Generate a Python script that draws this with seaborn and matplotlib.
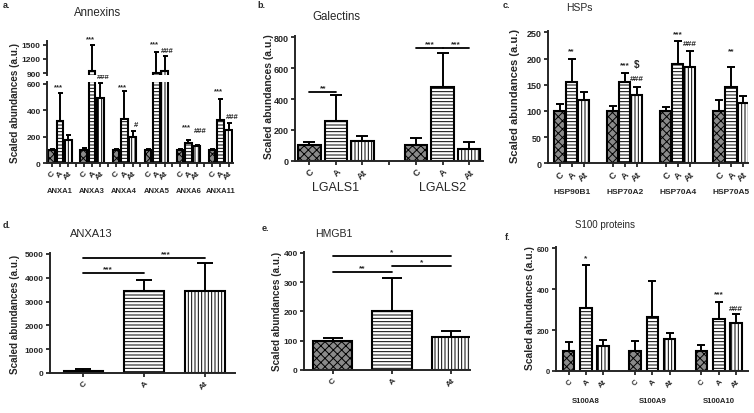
import numpy as np
import pandas as pd
import matplotlib
matplotlib.use("Agg")
import matplotlib.pyplot as plt
import seaborn as sns

# ---- values (mean, and upper SD) ----
groups = ["C", "A", "At"]

anx_genes = ["ANXA1", "ANXA3", "ANXA4", "ANXA5", "ANXA6", "ANXA11"]
anx_c = [100, 100, 100, 100, 100, 100]
anx_a = [323, 950, 335, 900, 154, 330]
anx_at = [176, 492, 202, 950, 134, 255]
anx_c_err = [10, 13, 5, 8, 6, 8]
anx_a_err = [209, 550, 215, 450, 22, 157]
anx_at_err = [41, 118, 45, 300, 7, 47]
anx_marks = [("ANXA1", "A", "***", 580), ("ANXA3", "A", "***", 1630), ("ANXA3", "At", "###", 655),
             ("ANXA4", "A", "***", 580), ("ANXA4", "At", "#", 290),
             ("ANXA5", "A", "***", 1510), ("ANXA5", "At", "###", 1370),
             ("ANXA6", "A", "***", 280), ("ANXA6", "At", "###", 250),
             ("ANXA11", "A", "***", 550), ("ANXA11", "At", "###", 355)]

gal_genes = ["LGALS1", "LGALS2"]
gal_c = [100, 100]
gal_a = [259, 476]
gal_at = [126, 78]
gal_c_err = [19, 45]
gal_a_err = [167, 220]
gal_at_err = [34, 41]
gal_lines = [("LGALS1", "C", "A", 443, "**", 0.5), ("LGALS2", "C", "A", 729, "***", 0.5),
             ("LGALS2", "A", "At", 729, "***", 0.5)]

hsp_genes = ["HSP90B1", "HSP70A2", "HSP70A4", "HSP70A5"]
hsp_c = [100, 100, 100, 100]
hsp_a = [155, 155, 190, 145]
hsp_at = [120, 131, 184, 115]
hsp_c_err = [13, 9, 7, 21]
hsp_a_err = [44, 17, 44, 38]
hsp_at_err = [17, 15, 30, 14]
hsp_marks = [("HSP90B1", "A", "**", 215), ("HSP70A2", "A", "***", 188), ("HSP70A2", "At", "$", 190),
             ("HSP70A2", "At", "###", 162), ("HSP70A4", "A", "***", 247),
             ("HSP70A4", "At", "###", 228), ("HSP70A5", "A", "**", 215)]

anx13_genes = ["ANXA13"]
anx13_c, anx13_a, anx13_at = [100], [3445], [3460]
anx13_c_err, anx13_a_err, anx13_at_err = [50], [455], [1160]
anx13_lines = [("ANXA13", "C", "A", 4200, "***", 0.4), ("ANXA13", "C", "At", 4830, "***", 0.68)]

hmgb_genes = ["HMGB1"]
hmgb_c, hmgb_a, hmgb_at = [100], [203], [114]
hmgb_c_err, hmgb_a_err, hmgb_at_err = [10], [112], [20]
hmgb_lines = [("HMGB1", "C", "At", 391, "*", 0.5), ("HMGB1", "C", "A", 334, "**", 0.5),
              ("HMGB1", "A", "At", 354, "*", 0.5)]

s100_genes = ["S100A8", "S100A9", "S100A10"]
s100_c = [100, 100, 100]
s100_a = [307, 264, 253]
s100_at = [124, 158, 235]
s100_c_err = [42, 47, 26]
s100_a_err = [212, 173, 86]
s100_at_err = [29, 26, 42]
s100_marks = [("S100A8", "A", "*", 555), ("S100A10", "A", "***", 378), ("S100A10", "At", "###", 305)]

fills = {"C": "#8a8a8a", "A": "white", "At": "white"}
hatches = {"C": "xxxx", "A": "-----", "At": "|||||"}

sns.set_style("ticks")
plt.rcParams["font.family"] = ["Liberation Sans", "DejaVu Sans"]
plt.rcParams["hatch.linewidth"] = 0.7

W, H = 754, 414
fig = plt.figure(figsize=(W / 100, H / 100), dpi=100)


def px_axes(x0, y0, x1, y1):
    return fig.add_axes([x0 / W, 1 - y1 / H, (x1 - x0) / W, (y1 - y0) / H])


def ftext(x, y, s, **kw):
    fig.text(x / W, 1 - y / H, s, **kw)


def bars(ax, genes, means, errs, width, gap, capsize, ylim, yticks, xlim, ticksize=6):
    rows = [(g, grp, means[k][j]) for j, g in enumerate(genes) for k, grp in enumerate(groups)]
    df = pd.DataFrame(rows, columns=["gene", "group", "value"])
    sns.barplot(data=df, x="gene", y="value", hue="group", order=genes, hue_order=groups,
                palette=fills, saturation=1, width=width, gap=gap, errorbar=None,
                legend=False, ax=ax)
    centers = {}
    for k, cont in enumerate(ax.containers):
        for j, p in enumerate(cont.patches):
            p.set_hatch(hatches[groups[k]])
            p.set_edgecolor("black")
            p.set_linewidth(1.5)
            centers[(genes[j], groups[k])] = p.get_x() + p.get_width() / 2
    for k, grp in enumerate(groups):
        xs = [centers[(g, grp)] for g in genes]
        ax.errorbar(xs, means[k], yerr=[np.zeros(len(genes)), errs[k]], fmt="none",
                    ecolor="black", elinewidth=1.4, capsize=capsize, capthick=1.4, zorder=3)
    ax.set_xticks([centers[(g, grp)] for g in genes for grp in groups])
    ax.set_xticklabels(groups * len(genes), rotation=45, ha="right", rotation_mode="anchor",
                       fontsize=ticksize, fontweight="bold")
    ax.set_yticks(yticks)
    ax.set_yticklabels([str(t) for t in yticks], fontsize=ticksize, fontweight="bold")
    ax.set_ylim(*ylim)
    ax.set_xlim(*xlim)
    ax.set_xlabel("")
    ax.set_ylabel("")
    sns.despine(ax=ax)
    for s in ["left", "bottom"]:
        ax.spines[s].set_linewidth(1.4)
    ax.tick_params(width=1.3, length=3, pad=1.5)
    return centers


def marks(ax, centers, items, size=6, nudge=False):
    for gene, grp, s, y in items:
        dx = 0
        if nudge:
            dx = 2.2 if s.startswith("#") else -1.2
        ax.annotate(s, xy=(centers[(gene, grp)], y), xytext=(dx, 0), textcoords="offset points",
                    ha="center", va="center", fontsize=size, fontweight="bold",
                    annotation_clip=False)


def sig_lines(ax, centers, items):
    for gene, g1, g2, y, s, frac in items:
        x1, x2 = centers[(gene, g1)], centers[(gene, g2)]
        ax.plot([x1, x2], [y, y], color="black", lw=1.3, clip_on=False)
        ax.annotate(s, xy=(x1 + frac * (x2 - x1), y), xytext=(0, 0.5), textcoords="offset points",
                    ha="center", va="bottom", fontsize=6, fontweight="bold")


def gene_labels(ax, genes, offset, size, weight):
    for j, g in enumerate(genes):
        ax.annotate(g, xy=(j, 0), xycoords=("data", "axes fraction"), xytext=(0, -offset),
                    textcoords="offset points", ha="center", va="center",
                    fontsize=size, fontweight=weight)


# ---- a. Annexins (broken axis) ----
anx_means = [anx_c, anx_a, anx_at]
anx_errs = [anx_c_err, anx_a_err, anx_at_err]
ax_lo = px_axes(47, 83, 233, 164.3)
ax_up = px_axes(47, 42, 233, 76)
c_lo = bars(ax_lo, anx_genes, anx_means, anx_errs, 0.78, 0.2, 1.8, (0, 615), [0, 200, 400, 600], (-0.405, 5.39))
c_up = bars(ax_up, anx_genes, anx_means, anx_errs, 0.78, 0.2, 1.8, (858, 1578), [900, 1200, 1500], (-0.405, 5.39))
ax_up.spines["bottom"].set_visible(False)
ax_up.tick_params(axis="x", bottom=False, labelbottom=False)
ax_lo.set_xticks([j + 0.5 for j in range(len(anx_genes) - 1)], minor=True)
ax_lo.tick_params(axis="x", which="minor", width=1.3, length=3)
marks(ax_lo, c_lo, [m for m in anx_marks if m[3] < 700], size=5.5, nudge=True)
marks(ax_up, c_up, [m for m in anx_marks if m[3] >= 700], size=5.5, nudge=True)
gene_labels(ax_lo, anx_genes, 19.7, 5.5, "bold")
ftext(97.7, 13.3, "Annexins", ha="center", va="center", fontsize=8.3)
ftext(15, 103, "Scaled abundances (a.u.)", rotation=90, ha="center", va="center", fontsize=7.2, fontweight="bold")
ftext(3, 5, "a.", ha="left", va="center", fontsize=6.5, fontweight="bold")

# ---- b. Galectins ----
ax_b = px_axes(295, 37.1, 483, 161.7)
c_b = bars(ax_b, gal_genes, [gal_c, gal_a, gal_at], [gal_c_err, gal_a_err, gal_at_err],
           0.745, 0.15, 4.2, (0, 808), [0, 200, 400, 600, 800], (-0.384, 1.378), ticksize=6.5)
ax_b.set_xticks([0.5], minor=True)
ax_b.tick_params(axis="x", which="minor", width=1.3, length=3)
sig_lines(ax_b, c_b, gal_lines)
gene_labels(ax_b, gal_genes, 19, 9, "normal")
ftext(336.3, 16.7, "Galectins", ha="center", va="center", fontsize=8.3)
ftext(269, 97, "Scaled abundances (a.u.)", rotation=90, ha="center", va="center", fontsize=7.5, fontweight="bold")
ftext(257, 5, "b.", ha="left", va="center", fontsize=6.5, fontweight="bold")

# ---- c. HSPs ----
ax_c = px_axes(548, 32.3, 748, 164.3)
c_c = bars(ax_c, hsp_genes, [hsp_c, hsp_a, hsp_at], [hsp_c_err, hsp_a_err, hsp_at_err],
           0.68, 0.08, 2.9, (0, 252), [0, 50, 100, 150, 200, 250], (-0.446, 3.32), ticksize=6.5)
marks(ax_c, c_c, [m for m in hsp_marks if m[2] != "$"])
marks(ax_c, c_c, [m for m in hsp_marks if m[2] == "$"], size=7)
gene_labels(ax_c, hsp_genes, 20, 6, "bold")
ftext(579, 8.3, "HSPs", ha="center", va="center", fontsize=7.5)
ftext(515, 96, "Scaled abundances (a.u.)", rotation=90, ha="center", va="center", fontsize=8, fontweight="bold")
ftext(503, 5, "c.", ha="left", va="center", fontsize=6.5, fontweight="bold")

# ---- d. ANXA13 ----
ax_d = px_axes(50, 254, 235, 374)
c_d = bars(ax_d, anx13_genes, [anx13_c, anx13_a, anx13_at], [anx13_c_err, anx13_a_err, anx13_at_err],
           0.9, 0.34, 6, (0, 5040), [0, 1000, 2000, 3000, 4000, 5000], (-0.466, 0.451))
sig_lines(ax_d, c_d, anx13_lines)
ftext(91.7, 234.3, "ANXA13", ha="center", va="center", fontsize=8)
ftext(15, 314, "Scaled abundances (a.u.)", rotation=90, ha="center", va="center", fontsize=7.1, fontweight="bold")
ftext(3, 226, "d.", ha="left", va="center", fontsize=6.5, fontweight="bold")

# ---- e. HMGB1 ----
ax_e = px_axes(304, 252.8, 470, 371)
c_e = bars(ax_e, hmgb_genes, [hmgb_c, hmgb_a, hmgb_at], [hmgb_c_err, hmgb_a_err, hmgb_at_err],
           0.9, 0.336, 7.5, (0, 404), [0, 100, 200, 300, 400], (-0.446, 0.395))
sig_lines(ax_e, c_e, hmgb_lines)
ftext(333.7, 234.3, "HMGB1", ha="center", va="center", fontsize=7.6)
ftext(276.7, 311, "Scaled abundances (a.u.)", rotation=90, ha="center", va="center", fontsize=7.1, fontweight="bold")
ftext(262, 229, "e.", ha="left", va="center", fontsize=6.5, fontweight="bold")

# ---- f. S100 proteins ----
ax_f = px_axes(556, 247.8, 748, 372)
c_f = bars(ax_f, s100_genes, [s100_c, s100_a, s100_at], [s100_c_err, s100_a_err, s100_at_err],
           0.78, 0.33, 3, (0, 606), [0, 200, 400, 600], (-0.45, 2.44), ticksize=5.5)
marks(ax_f, c_f, s100_marks)
gene_labels(ax_f, s100_genes, 21.6, 5.6, "bold")
ftext(605, 225, "S100 proteins", ha="center", va="center", fontsize=7)
ftext(530, 308, "Scaled abundances (a.u.)", rotation=90, ha="center", va="center", fontsize=7.4, fontweight="bold")
ftext(505, 238, "f.", ha="left", va="center", fontsize=6.5, fontweight="bold")

fig.savefig("out.png", dpi=100)
